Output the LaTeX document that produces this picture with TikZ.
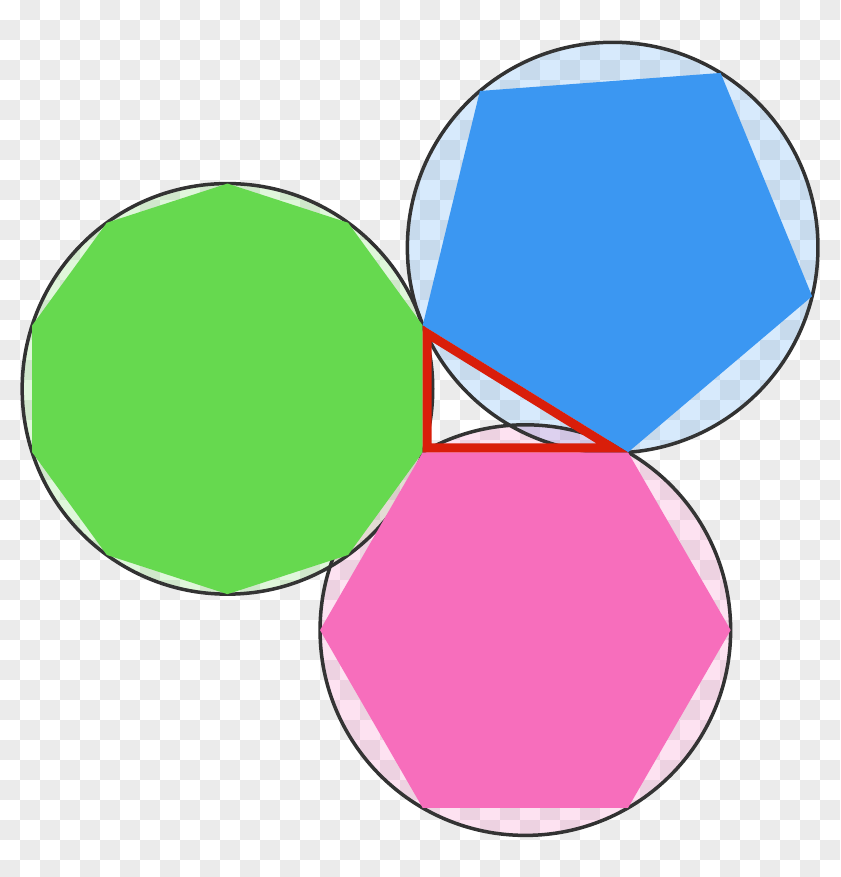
\documentclass[tikz,border=0pt]{standalone}
\usetikzlibrary{calc}

\definecolor{decagreen}{HTML}{66D94F}
\definecolor{pentablue}{HTML}{3B97F2}
\definecolor{hexapink}{HTML}{F76EBC}
\definecolor{trired}{HTML}{D91E0A}
\definecolor{rimgrey}{HTML}{333333}
\definecolor{checkgrey}{HTML}{EBEBEB}

\begin{document}
\begin{tikzpicture}[x=1pt, y=-1pt,
    rim/.style={draw=rimgrey, line width=3.5pt},
    halo/.style={fill opacity=0.2},
    triside/.style={draw=trired, line width=9pt, line join=miter}]

\def\R{205.3}
\useasboundingbox (0,0) rectangle (840,877);

% Checker background
\fill[white] (0,0) rectangle (840,877);
\foreach \x in {20,60,...,820}
  \foreach \y in {0,40,...,840}
  {
    \fill[checkgrey] (\x,\y) rectangle ++(20,20);
    \fill[checkgrey] (\x-20,\y+20) rectangle ++(20,20);
  }

% Corners of the triangle
\coordinate (B) at (422.7,452.3);
\coordinate (C) at ($(B)+(\R,0)$);
\coordinate (A) at ($(B)+(0,{-2*\R*sin(18)})$);

% Centres of the three circles
\coordinate (deca) at ($(B)+({-\R*cos(18)},{-\R*sin(18)})$);
\coordinate (hexa) at ($(B)+({\R/2},{\R*sin(60)})$);
\coordinate (penta) at ($($(A)!0.5!(C)$)+(301.717:{\R*cos(36)})$);

% Circles
\foreach \c/\col in {deca/decagreen, penta/pentablue, hexa/hexapink}
{
    \fill[\col, halo] (\c) circle (\R);
}
\foreach \c in {deca, penta, hexa}
{
    \draw[rim] (\c) circle (\R);
}

% Polygons
\fill[decagreen, shift={(deca)}] (18:\R)
    \foreach \k in {1,...,9} { -- ({18+36*\k}:\R) } -- cycle;
\fill[pentablue, shift={(penta)}] (13.717:\R)
    \foreach \k in {1,...,4} { -- ({13.717+72*\k}:\R) } -- cycle;
\fill[hexapink, shift={(hexa)}] (0:\R)
    \foreach \k in {1,...,5} { -- ({60*\k}:\R) } -- cycle;

% Triangle, stroke kept inside
\coordinate (I) at ($(B)+(45.42,-45.42)$);
\draw[triside] ($(I)!0.901!(A)$) -- ($(I)!0.901!(B)$) -- ($(I)!0.901!(C)$) -- cycle;

\end{tikzpicture}
\end{document}
